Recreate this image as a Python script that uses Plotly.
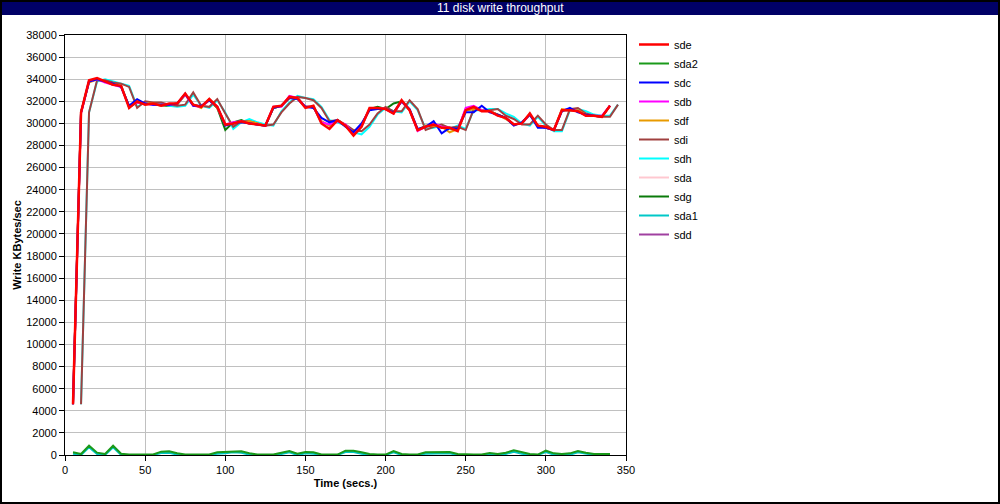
import plotly.graph_objects as go

# time axis (seconds)
t_main = list(range(5, 345, 5))     # 5 .. 340
t_shift = list(range(10, 350, 5))   # 10 .. 345

sde = [4600, 31000, 33900, 34100, 33800, 33500, 33400, 31400, 32000, 31700,
       31800, 31600, 31800, 31800, 32700, 31700, 31500, 32200, 31500, 29900,
       30000, 30200, 30000, 29900, 29800, 31500, 31600, 32400, 32300, 31400,
       31600, 30000, 29500, 30300, 29800, 28900, 29700, 31400, 31400, 31300,
       30900, 32100, 31200, 29400, 29700, 29900, 29600, 29600, 29300, 31200,
       31500, 31100, 31100, 30700, 30500, 29900, 30000, 30900, 29800, 29700,
       29400, 31200, 31200, 31100, 30700, 30700, 30600, 31600]

sda2 = [240, 90, 840, 210, 90, 840, 120, 40, 40, 40,
        40, 300, 330, 150, 40, 40, 40, 40, 240, 270,
        360, 330, 150, 40, 40, 40, 210, 360, 120, 270,
        240, 40, 40, 40, 390, 390, 240, 90, 40, 40,
        360, 90, 40, 40, 240, 240, 270, 270, 90, 40,
        40, 40, 180, 90, 210, 420, 240, 90, 40, 390,
        150, 90, 150, 360, 210, 90, 90, 90]

sdc = [4600, 31000, 33800, 34000, 33800, 33600, 33300, 31600, 32200, 31800,
       31700, 31700, 31700, 31800, 32700, 31600, 31600, 32100, 31500, 29800,
       30000, 30100, 30000, 29900, 29800, 31400, 31600, 32300, 32200, 31500,
       31400, 30500, 30100, 30300, 29700, 29200, 30000, 31200, 31300, 31300,
       31000, 32000, 31300, 29500, 29700, 30200, 29100, 29600, 29500, 31000,
       31000, 31600, 31000, 30800, 30500, 29800, 30100, 30800, 29600, 29600,
       29400, 31100, 31400, 31000, 30800, 30700, 30600, 31600]

sdb = [4600, 30900, 33800, 34000, 33700, 33500, 33300, 31500, 31900, 31800,
       31700, 31700, 31700, 31800, 32600, 31600, 31500, 32100, 31500, 29900,
       30100, 30200, 30000, 29900, 29800, 31500, 31500, 32500, 32300, 31500,
       31500, 30100, 29900, 30200, 29900, 29100, 29800, 31300, 31400, 31300,
       30900, 32000, 31200, 29300, 29700, 30000, 29700, 29600, 29400, 31400,
       31600, 31200, 31100, 30700, 30500, 29900, 30000, 30800, 29800, 29600,
       29400, 31200, 31300, 31100, 30700, 30700, 30700, 31600]

sdf = [4600, 31000, 33700, 34000, 33800, 33500, 33400, 31500, 31900, 31800,
       31800, 31700, 31700, 31800, 32600, 31700, 31400, 32200, 31400, 29900,
       30000, 30100, 30200, 30000, 29800, 31400, 31600, 32300, 32300, 31500,
       31500, 30200, 29800, 30300, 29800, 29100, 29800, 31300, 31300, 31300,
       31000, 32000, 31200, 29400, 29800, 29800, 29700, 29200, 29500, 31200,
       31300, 31200, 31100, 30800, 30400, 29900, 30000, 30800, 29800, 29600,
       29400, 31300, 31200, 31200, 30800, 30700, 30600, 31600]

sdi = [4600, 31000, 33900, 33900, 33700, 33600, 33300, 31400, 32000, 31900,
       31900, 31700, 31600, 31700, 32800, 31600, 31500, 32200, 30900, 29700,
       30200, 30200, 30000, 29800, 29900, 31000, 31800, 32400, 32300, 32100,
       31400, 30200, 30300, 29900, 29400, 29300, 29900, 30900, 31500, 31100,
       31100, 32100, 31300, 29400, 29700, 29900, 29600, 29700, 29400, 31300,
       31200, 31200, 31300, 30700, 30400, 29900, 29900, 30700, 29900, 29400,
       29400, 31300, 31400, 30900, 30700, 30600, 30600, 31700]

sdh = [4600, 31000, 33800, 34000, 33800, 33600, 33400, 31500, 31900, 31800,
       31800, 31600, 31500, 31600, 32600, 31600, 31400, 32100, 31000, 29500,
       30100, 30400, 30100, 29900, 29800, 31100, 31900, 32500, 32300, 32200,
       31500, 30300, 30100, 29800, 29200, 29000, 29700, 30800, 31400, 31100,
       31000, 32000, 31200, 29500, 29600, 29800, 29500, 29800, 29500, 31200,
       31200, 31300, 31300, 30900, 30600, 30000, 29800, 30600, 29800, 29300,
       29300, 31200, 31300, 31100, 30800, 30700, 30700, 31700]

sda = [4600, 31000, 33900, 34000, 33800, 33500, 33400, 31500, 32000, 31700,
       31800, 31600, 31700, 31800, 32600, 31700, 31500, 32200, 31500, 29900,
       30000, 30200, 30000, 29900, 29800, 31500, 31600, 32400, 32300, 31400,
       31600, 30100, 29600, 30300, 29800, 29000, 29700, 31400, 31400, 31300,
       30900, 32100, 31200, 29400, 29700, 29900, 29600, 29600, 29300, 31200,
       31500, 31100, 31100, 30700, 30500, 29900, 30000, 30900, 29800, 29700,
       29400, 31200, 31200, 31100, 30700, 30700, 30600, 31600]

sdg = [4600, 31000, 33800, 34000, 33800, 33500, 33400, 31500, 31900, 31800,
       31800, 31600, 31600, 31700, 32600, 31700, 31500, 32100, 31400, 29400,
       30100, 30300, 30000, 29900, 29800, 31400, 31600, 32300, 32300, 31500,
       31500, 30100, 29700, 30300, 29800, 29100, 29800, 31300, 31500, 31300,
       31800, 32000, 31200, 29400, 29800, 29800, 29700, 29500, 29500, 31200,
       31300, 31200, 31100, 30800, 30500, 29900, 30000, 30800, 29800, 29600,
       29400, 31200, 31200, 31100, 30800, 30700, 30600, 31600]

sda1 = [120, 0, 700, 90, 0, 700, 0, 0, 0, 0,
        0, 180, 210, 30, 0, 0, 0, 0, 120, 150,
        240, 210, 30, 0, 0, 0, 90, 240, 0, 150,
        120, 0, 0, 0, 270, 270, 120, 0, 0, 0,
        240, 0, 0, 0, 120, 120, 150, 150, 0, 0,
        0, 0, 60, 0, 90, 300, 120, 0, 0, 270,
        30, 0, 30, 240, 90, 0, 0, 0]

sdd = [4600, 31000, 33800, 34000, 33800, 33500, 33400, 31500, 31900, 31800,
       31800, 31700, 31700, 31800, 32600, 31700, 31500, 32200, 31500, 29900,
       30000, 30200, 30100, 29900, 29800, 31500, 31600, 32400, 32300, 31500,
       31500, 30100, 29700, 30300, 29800, 29000, 29800, 31300, 31400, 31300,
       30900, 32000, 31200, 29400, 29700, 29900, 29600, 29500, 29400, 31300,
       31500, 31200, 31100, 30800, 30500, 29900, 30000, 30800, 29800, 29700,
       29400, 31200, 31200, 31100, 30800, 30700, 30600, 31600]

series = [
    ("sde", t_main, sde, "#FF0000", 2.5),
    ("sda2", t_main, sda2, "#1A9A1A", 2),
    ("sdc", t_main, sdc, "#0000FF", 2),
    ("sdb", t_main, sdb, "#FF00FF", 2),
    ("sdf", t_main, sdf, "#E89A00", 2),
    ("sdi", t_shift, sdi, "#A0403F", 2),
    ("sdh", t_shift, sdh, "#00FFFF", 2),
    ("sda", t_main, sda, "#FFC8D0", 2),
    ("sdg", t_main, sdg, "#0A7A0A", 2),
    ("sda1", t_main, sda1, "#00C8C8", 2),
    ("sdd", t_main, sdd, "#A040A0", 2),
]

fig = go.Figure()
for name, x, y, color, w in reversed(series):
    fig.add_trace(go.Scatter(x=x, y=y, name=name, mode="lines",
                             line=dict(color=color, width=w)))

L, R, T, B = 65, 374, 35, 49
pw = 1000 - L - R
ph = 504 - T - B

def px(xp):
    return (xp - L) / pw

def py(yp):
    return (504 - B - yp) / ph

font = "Liberation Sans, Arial, sans-serif"

fig.update_layout(
    width=1000, height=504,
    margin=dict(l=L, r=R, t=T, b=B, autoexpand=False),
    paper_bgcolor="white", plot_bgcolor="white",
    font=dict(family=font, size=11, color="black"),
    showlegend=True,
    legend=dict(traceorder="reversed", x=px(634), y=py(30), xanchor="left", yanchor="top",
                font=dict(family=font, size=11, color="black"),
                itemwidth=30, bgcolor="rgba(0,0,0,0)", tracegroupgap=0),
    xaxis=dict(range=[0, 350], tick0=0, dtick=50, showgrid=True, gridcolor="#C0C0C0",
               gridwidth=1, showline=True, linecolor="black", linewidth=1, mirror=True,
               ticks="outside", ticklen=5, tickcolor="black", zeroline=False,
               automargin=False, tickformat="d",
               title=dict(text="<b>Time (secs.)</b>", font=dict(size=11), standoff=4)),
    yaxis=dict(range=[0, 38000], tick0=0, dtick=2000, showgrid=True, gridcolor="#C0C0C0",
               gridwidth=1, showline=True, linecolor="black", linewidth=1, mirror=True,
               ticks="outside", ticklen=5, tickcolor="black", zeroline=False,
               automargin=False, tickformat="d", separatethousands=False,
               title=dict(text="<b>Write KBytes/sec</b>", font=dict(size=11), standoff=2)),
    shapes=[
        dict(type="rect", xref="paper", yref="paper", x0=px(0), x1=px(1000),
             y0=py(15), y1=py(0), fillcolor="#000066", line=dict(width=0), layer="above"),
        dict(type="rect", xref="paper", yref="paper", x0=px(1), x1=px(999),
             y0=py(503), y1=py(1), line=dict(color="black", width=2),
             fillcolor="rgba(0,0,0,0)", layer="above"),
    ],
    annotations=[
        dict(text="11 disk write throughput", xref="paper", yref="paper",
             x=px(500), y=py(7.5), xanchor="center", yanchor="middle", showarrow=False,
             font=dict(family="Liberation Sans Narrow, Liberation Sans, Arial", size=12,
                       color="white")),
    ],
)

fig.write_html("out.html", config={"displayModeBar": False},
               post_script="document.body.style.margin='0';")
